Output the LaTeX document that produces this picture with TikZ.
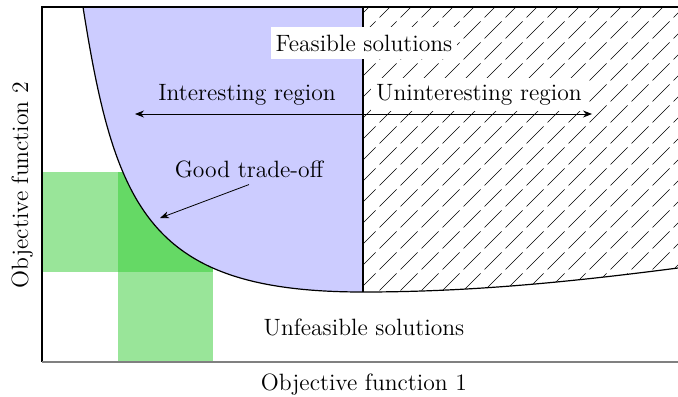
\documentclass[tikz,border=0pt]{standalone}
\usepackage{tikz}
\usetikzlibrary{patterns, patterns.meta, arrows.meta}

\definecolor{tradegreen}{RGB}{51,204,51}
\tikzdeclarepattern{
  name=widehatch,
  type=uncolored,
  bounding box={(0pt,0pt) and (10.5pt,10.5pt)},
  tile size={(10.5pt,10.5pt)},
  code={\draw[line width=0.35pt] (0.8pt,0.8pt) -- (9.7pt,9.7pt);}
}
\tikzset{
  border/.style={line width=0.6pt},
  txt/.style={anchor=base},
  whitebox/.style={txt, fill=white, inner xsep=2.5pt, inner ysep=4pt},
  good/.style={fill=tradegreen, fill opacity=0.5}
}

\begin{document}
\begin{tikzpicture}[x=0.5pt, y=-0.5pt, >={Stealth[length=4.5pt,width=3.5pt]},
  font=\fontsize{11.8}{14}\selectfont]
\useasboundingbox (0,0) rectangle (678,396);
% corners and curve points
\coordinate (ctop) at (83,7);
\coordinate (cmin) at (363,292);
\coordinate (cright) at (678,268);
\coordinate (vtop) at (363,7);
\coordinate (rtop) at (678,7);
\coordinate (otop) at (42,7);
\coordinate (o) at (42,362);
\coordinate (oright) at (678,362);

% good trade-off bands
\fill[good] (42,172) rectangle (213,272);
\fill[good] (118,172) rectangle (213,362);

% interesting and uninteresting regions
\fill[blue!20] (ctop) .. controls (115,210) and (150,292) .. (cmin) -- (vtop) -- cycle;
\fill[pattern=widehatch] (vtop) -- (cmin) .. controls (470,292) and (570,282) .. (cright) -- (rtop) -- cycle;
\draw[border] (ctop) .. controls (115,210) and (150,292) .. (cmin) .. controls (470,292) and (570,282) .. (cright);
\draw[border] (vtop) -- (cmin);

% axes
\draw[border] (rtop) -- (otop) -- (o);
\draw[border, gray] (o) -- (oright);

\node[whitebox] (feasible) at (364,51) {Feasible solutions};
\node[txt] (interesting) at (247,100) {Interesting region};
\node[whitebox, inner ysep=3pt] (uninteresting) at (479,100) {Uninteresting region};
\node[txt] (tradeoff) at (249,177) {Good trade-off};
\node[txt] (unfeasible) at (364,335) {Unfeasible solutions};
\node[txt] (xlabel) at (364,390) {Objective function 1};
\node[txt, rotate=90] (ylabel) at (28,185) {Objective function 2};

\coordinate (amid) at (363,114);
\coordinate (aleft) at (135,114);
\coordinate (aright) at (592,114);
\coordinate (gtip) at (160,218);
\draw[->] (amid) -- (aleft);
\draw[->] (amid) -- (aright);
\draw[->] (tradeoff.south) -- (gtip);

\end{tikzpicture}
\end{document}
